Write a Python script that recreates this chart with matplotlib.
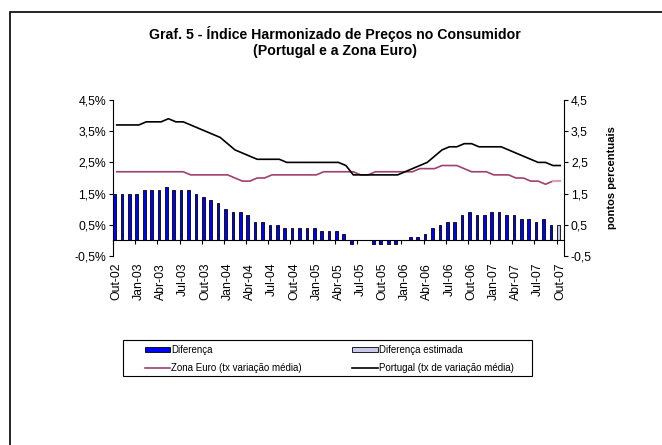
import numpy as np
import matplotlib
matplotlib.use("Agg")
import matplotlib.pyplot as plt
from matplotlib.patches import Patch, Rectangle
from matplotlib.lines import Line2D

plt.rcParams['font.family'] = ['Liberation Sans', 'DejaVu Sans']

# monthly data, Out-02 .. Out-07
meses = ["Jan", "Fev", "Mar", "Abr", "Mai", "Jun", "Jul", "Ago", "Set", "Out", "Nov", "Dez"]
portugal = [3.7, 3.7, 3.7, 3.7, 3.8, 3.8, 3.8, 3.9, 3.8, 3.8,
            3.7, 3.6, 3.5, 3.4, 3.3, 3.1, 2.9, 2.8, 2.7, 2.6,
            2.6, 2.6, 2.6, 2.5, 2.5, 2.5, 2.5, 2.5, 2.5, 2.5,
            2.5, 2.4, 2.1, 2.1, 2.1, 2.1, 2.1, 2.1, 2.1, 2.2,
            2.3, 2.4, 2.5, 2.7, 2.9, 3.0, 3.0, 3.1, 3.1, 3.0,
            3.0, 3.0, 3.0, 2.9, 2.8, 2.7, 2.6, 2.5, 2.5, 2.4,
            2.4]
zona_euro = [2.2, 2.2, 2.2, 2.2, 2.2, 2.2, 2.2, 2.2, 2.2, 2.2,
             2.1, 2.1, 2.1, 2.1, 2.1, 2.1, 2.0, 1.9, 1.9, 2.0,
             2.0, 2.1, 2.1, 2.1, 2.1, 2.1, 2.1, 2.1, 2.2, 2.2,
             2.2, 2.2, 2.2, 2.1, 2.1, 2.2, 2.2, 2.2, 2.2, 2.2,
             2.2, 2.3, 2.3, 2.3, 2.4, 2.4, 2.4, 2.3, 2.2, 2.2,
             2.2, 2.1, 2.1, 2.1, 2.0, 2.0, 1.9, 1.9, 1.8, 1.9,
             1.9]
diferenca = [1.5, 1.5, 1.5, 1.5, 1.6, 1.6, 1.6, 1.7, 1.6, 1.6,
             1.6, 1.5, 1.4, 1.3, 1.2, 1.0, 0.9, 0.9, 0.8, 0.6,
             0.6, 0.5, 0.5, 0.4, 0.4, 0.4, 0.4, 0.4, 0.3, 0.3,
             0.3, 0.2, -0.1, 0.0, 0.0, -0.1, -0.1, -0.1, -0.1, 0.0,
             0.1, 0.1, 0.2, 0.4, 0.5, 0.6, 0.6, 0.8, 0.9, 0.8,
             0.8, 0.9, 0.9, 0.8, 0.8, 0.7, 0.7, 0.6, 0.7, 0.5]
diferenca_estimada = [0.5]  # last month (Out-07)

labels = []
for i in range(len(portugal)):
    m = (9 + i) % 12
    ano = 2 + (9 + i) // 12
    labels.append(f"{meses[m]}-{ano:02d}")

x = np.arange(len(portugal))
xe = x[len(diferenca):]

fig = plt.figure(figsize=(6.62, 4.45), dpi=100)
ax = fig.add_axes([113 / 662, 1 - 256 / 445, 451 / 662, 156 / 445])

# bars
off = -0.28
ax.bar(x[:len(diferenca)] + off, diferenca, width=0.36, color="#0000FF",
       edgecolor="black", linewidth=0.6, zorder=2)
ax.bar(xe + off, diferenca_estimada, width=0.36, color="#C8C8E8",
       edgecolor="black", linewidth=0.6, zorder=2)

# lines
euro_col = "#A0406E"
ax.plot(x[:-1], zona_euro[:-1], color=euro_col, lw=1.2, zorder=3)
ax.plot(x[-2:], zona_euro[-2:], color="#D8A0BC", lw=1.6, zorder=3)
ax.plot(x, portugal, color="black", lw=1.2, zorder=4)

ax.set_xlim(-0.5, len(x) - 0.5)
ax.set_ylim(-0.5, 4.5)
yt = np.arange(-0.5, 4.6, 1.0)
ax.set_yticks(yt)
ax.set_yticklabels([f"{v:.1f}%".replace(".", ",") for v in yt])
ax.tick_params(axis="y", labelsize=8.8, length=3, width=0.8, pad=2)

for s in ["top", "right"]:
    ax.spines[s].set_visible(False)
ax.spines["left"].set_linewidth(0.8)
ax.spines["bottom"].set_position(("data", 0))
ax.spines["bottom"].set_linewidth(0.8)
ax.set_xticks(np.arange(-0.5, len(x), 3))
ax.tick_params(axis="x", length=3, width=0.8, labelbottom=False, direction="out")

sec = ax.secondary_xaxis(0)
sec.set_xticks(x[::3])
sec.set_xticklabels(labels[::3], rotation=90, fontsize=8.8)
sec.tick_params(length=0, pad=5)
sec.spines["bottom"].set_visible(False)

# right axis
ax2 = ax.twinx()
ax2.set_ylim(-0.5, 4.5)
ax2.set_yticks(yt)
ax2.set_yticklabels([f"{v:.1f}".replace(".", ",") for v in yt])
ax2.tick_params(axis="y", labelsize=8.8, length=3, width=0.8, pad=2)
for s in ["top", "left", "bottom"]:
    ax2.spines[s].set_visible(False)
ax2.spines["right"].set_linewidth(0.8)
ax2.set_ylabel("pontos percentuais", fontsize=8, fontweight="bold", labelpad=11)

fig.text(335 / 662, 1 - 42 / 445, "Graf. 5 - Índice Harmonizado de Preços no Consumidor\n(Portugal e a Zona Euro)",
         ha="center", va="center", fontsize=10.2, fontweight="bold", linespacing=1.15)

handles = [Patch(facecolor="#0000FF", edgecolor="black", linewidth=0.6),
           Line2D([], [], color=euro_col, lw=1.2),
           Patch(facecolor="#C8C8E8", edgecolor="black", linewidth=0.6),
           Line2D([], [], color="black", lw=1.2)]
names = ["Diferença", "Zona Euro (tx variação média)",
         "Diferença estimada", "Portugal (tx de variação média)"]
leg = fig.legend(handles, names, ncol=2, loc="upper left",
                 bbox_to_anchor=(145 / 662, 1 - 345 / 445),
                 fontsize=7, frameon=False,
                 handlelength=2.6, handleheight=0.5, handletextpad=0.1,
                 borderpad=0, labelspacing=0.85, borderaxespad=0,
                 columnspacing=5.2)
fig.patches.append(Rectangle((123 / 662, 1 - 376 / 445), 409 / 662, 36 / 445,
                             transform=fig.transFigure, fill=False,
                             edgecolor="black", linewidth=0.8))

fig.patches.append(Rectangle((10 / 662, -0.1), 1.2, 1.1 - 12 / 445, transform=fig.transFigure,
                             fill=False, edgecolor="black", linewidth=1.2))

fig.savefig("out.png", dpi=100)
